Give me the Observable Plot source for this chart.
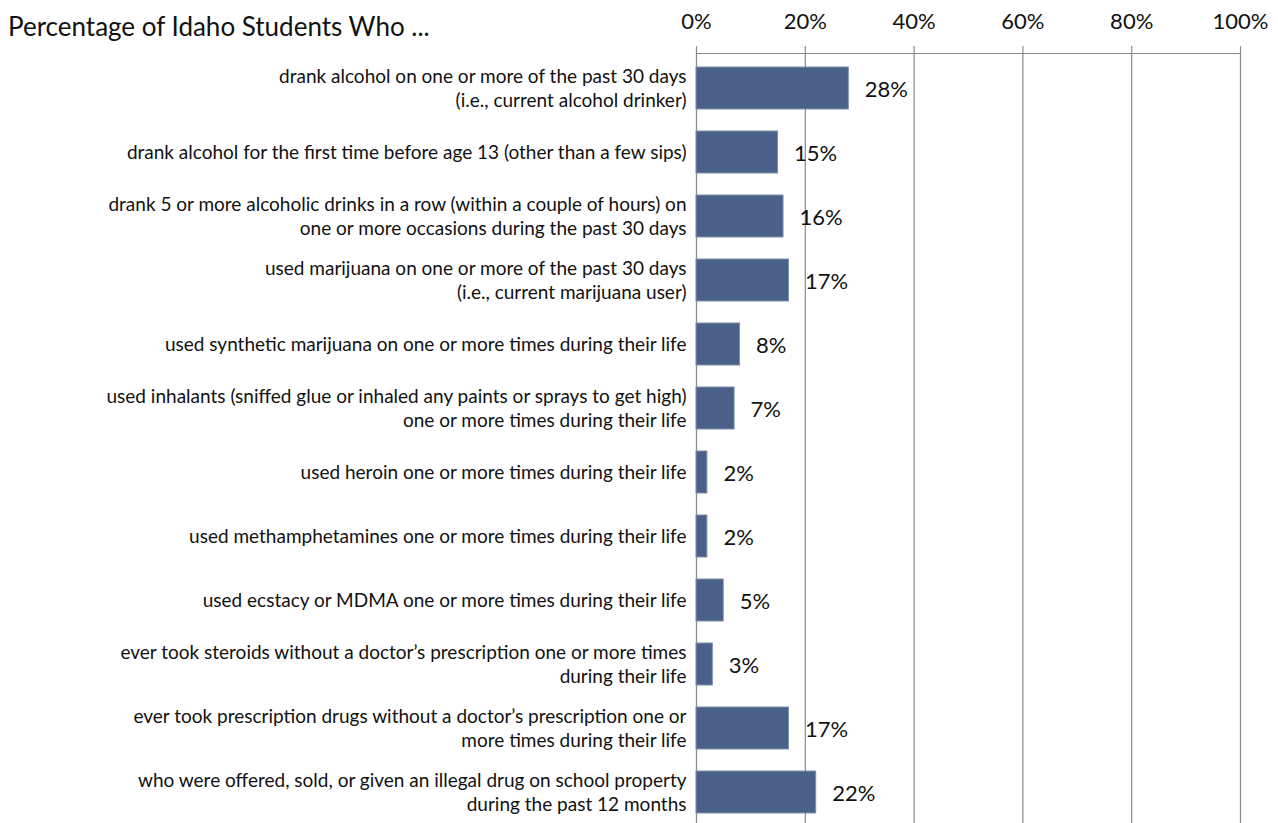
<!DOCTYPE html>
<html>
<head>
<meta charset="utf-8">
<script src="https://cdn.jsdelivr.net/npm/d3@7"></script>
<script src="https://cdn.jsdelivr.net/npm/@observablehq/plot@0.6"></script>
<style>
  html, body { margin: 0; padding: 0; background: #fff; overflow: hidden; }
  #wrap { position: relative; width: 1278px; height: 823px; font-family: Lato, "Open Sans", sans-serif; }
  #title { position: absolute; left: 8px; top: 10px; font-size: 26px; line-height: 32px; color: #111; font-family: Lato, "Open Sans", sans-serif; }
</style>
</head>
<body>
<div id="wrap">
  <div id="title">Percentage of Idaho Students Who ...</div>
  <div id="chart"></div>
</div>
<script>
const categories = [
  "drank alcohol on one or more of the past 30 days\n(i.e., current alcohol drinker)",
  "drank alcohol for the first time before age 13 (other than a few sips)",
  "drank 5 or more alcoholic drinks in a row (within a couple of hours) on\none or more occasions during the past 30 days",
  "used marijuana on one or more of the past 30 days\n(i.e., current marijuana user)",
  "used synthetic marijuana on one or more times during their life",
  "used inhalants (sniffed glue or inhaled any paints or sprays to get high)\none or more times during their life",
  "used heroin one or more times during their life",
  "used methamphetamines one or more times during their life",
  "used ecstacy or MDMA one or more times during their life",
  "ever took steroids without a doctor’s prescription one or more times\nduring their life",
  "ever took prescription drugs without a doctor’s prescription one or\nmore times during their life",
  "who were offered, sold, or given an illegal drug on school property\nduring the past 12 months"
];
const values = [28, 15, 16, 17, 8, 7, 2, 2, 5, 3, 17, 22];
const xTicks = [0, 20, 40, 60, 80, 100];

const data = categories.map((c, i) => ({category: c, value: values[i]}));

const chart = Plot.plot({
  width: 1278,
  height: 826,
  marginLeft: 696,
  marginRight: 38,
  marginTop: 53,
  marginBottom: 0,
  style: {fontFamily: "Lato, 'Open Sans', sans-serif", color: "#111", background: "#fff"},
  x: {domain: [0, 100]},
  y: {domain: categories, paddingInner: 0.35, paddingOuter: 0.175},
  marks: [
    Plot.gridX(xTicks, {stroke: "#8a8a8a", strokeOpacity: 1, strokeWidth: 1.2}),
    Plot.frame({anchor: "top", stroke: "#8a8a8a", strokeWidth: 1.2}),
    Plot.axisX(xTicks, {anchor: "top", tickSize: 8, tickPadding: 17, fontSize: 22, stroke: "#8a8a8a", strokeWidth: 1.2, tickFormat: d => d + "%", label: null}),
    Plot.axisY({anchor: "left", tickSize: 0, tickPadding: 10, fontSize: 19, lineHeight: 1.22, dy: -1, textOverflow: null, lineWidth: Infinity, label: null}),
    Plot.barX(data, {x: "value", y: "category", fill: "#4a6089", stroke: "#7d8fb0", strokeWidth: 1}),
    Plot.text(data, {x: "value", y: "category", text: d => d.value + "%", dx: 16, dy: 1, textAnchor: "start", fontSize: 22, fill: "#111"})
  ]
});
document.getElementById("chart").appendChild(chart);
</script>
</body>
</html>
